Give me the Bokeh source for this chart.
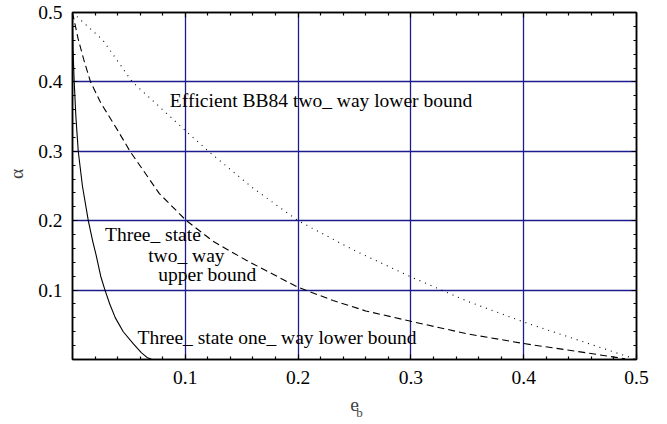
from bokeh.plotting import figure
from bokeh.models import Range1d, FixedTicker, LinearAxis, Label, CustomJSTickFormatter
from bokeh.embed import file_html
from bokeh.resources import INLINE

# ---- data ----
major_ticks = [0.1, 0.2, 0.3, 0.4, 0.5]
minor_ticks = [0.02, 0.04, 0.06, 0.08, 0.12, 0.14, 0.16, 0.18, 0.22, 0.24, 0.26, 0.28,
               0.32, 0.34, 0.36, 0.38, 0.42, 0.44, 0.46, 0.48]
grid_ticks = [0.1, 0.2, 0.3, 0.4]

# Three_state one_way lower bound (solid)
one_way_x = [0.0, 0.0004, 0.0015, 0.003, 0.0051, 0.0088, 0.014, 0.018, 0.021, 0.025, 0.0288,
             0.033, 0.038, 0.045, 0.054, 0.061, 0.066, 0.0705]
one_way_y = [0.5, 0.45, 0.4, 0.35, 0.3, 0.25, 0.2, 0.17, 0.15, 0.12, 0.1,
             0.08, 0.06, 0.04, 0.0225, 0.01, 0.003, 0.0]

# Three_state two_way upper bound (dashed)
two_way_x = [0.0, 0.002, 0.005, 0.01, 0.016, 0.025, 0.039, 0.051, 0.077, 0.101, 0.125, 0.154,
             0.2, 0.231, 0.26, 0.3, 0.35, 0.4, 0.45, 0.49]
two_way_y = [0.5, 0.485, 0.462, 0.432, 0.4, 0.37, 0.333, 0.3, 0.239, 0.2, 0.17, 0.143,
             0.104, 0.085, 0.07, 0.055, 0.037, 0.023, 0.011, 0.001]

# Efficient BB84 two_way lower bound (dotted)
bb84_x = [0.0, 0.027, 0.053, 0.1, 0.122, 0.16, 0.2, 0.25, 0.3, 0.35, 0.4, 0.45, 0.5]
bb84_y = [0.5, 0.46, 0.4, 0.33, 0.298, 0.247, 0.2, 0.157, 0.119, 0.084, 0.054, 0.027, 0.0]

FONT = "Liberation Serif"
FS = "19.5px"
GRID = "#1c1c8e"

p = figure(width=659, height=424, x_range=Range1d(0, 0.5), y_range=Range1d(0, 0.5),
           output_backend="svg", toolbar_location=None,
           min_border_left=72, min_border_right=23, min_border_top=12, min_border_bottom=65)

p.background_fill_color = "white"
p.border_fill_color = "white"
p.outline_line_color = "black"
p.outline_line_width = 1.5

# grids
p.xgrid.ticker = FixedTicker(ticks=grid_ticks)
p.ygrid.ticker = FixedTicker(ticks=grid_ticks)
for g in (p.xgrid, p.ygrid):
    g.grid_line_color = GRID
    g.grid_line_width = 1.3

def style_axis(ax, show_labels):
    ax.ticker = FixedTicker(ticks=major_ticks, minor_ticks=minor_ticks)
    ax.axis_line_color = "black"
    ax.axis_line_width = 1.5
    ax.major_tick_in = 5
    ax.major_tick_out = 0
    ax.minor_tick_in = 3
    ax.minor_tick_out = 0
    ax.major_tick_line_color = "black"
    ax.minor_tick_line_color = "black"
    ax.major_tick_line_width = 1.2
    ax.minor_tick_line_width = 1.2
    ax.major_label_text_font = FONT
    ax.major_label_text_color = "black"
    if show_labels:
        ax.major_label_text_font_size = FS
    else:
        ax.formatter = CustomJSTickFormatter(code="return ''")
        ax.major_label_text_font_size = "0px"
        ax.major_label_standoff = 0

style_axis(p.xaxis[0], True)
style_axis(p.yaxis[0], True)
p.xaxis.major_label_standoff = 11
p.yaxis.major_label_standoff = 10

p.xaxis.axis_label = "e"
p.xaxis.axis_label_text_font = FONT
p.xaxis.axis_label_text_font_size = FS
p.xaxis.axis_label_text_font_style = "normal"
p.xaxis.axis_label_standoff = 11

p.yaxis.axis_label = "\u00a0\u00a0\u00a0\u00a0\u00a0α"
p.yaxis.axis_label_text_font = FONT
p.yaxis.axis_label_text_font_size = FS
p.yaxis.axis_label_text_font_style = "normal"
p.yaxis.axis_label_standoff = 8

# subscript "b" of the x-axis label, as the label of a bare extra axis
sub_axis = LinearAxis(ticker=FixedTicker(ticks=[]), axis_line_color=None,
                      major_tick_line_color=None, minor_tick_line_color=None,
                      formatter=CustomJSTickFormatter(code="return ''"),
                      major_label_text_font_size="0px", major_label_standoff=0,
                      axis_label="\u00a0\u00a0\u00a0b", axis_label_text_font=FONT,
                      axis_label_text_font_size="13px", axis_label_text_font_style="normal",
                      axis_label_standoff=-9)
p.add_layout(sub_axis, "below")

top_axis = LinearAxis()
right_axis = LinearAxis()
style_axis(top_axis, False)
style_axis(right_axis, False)
p.add_layout(top_axis, "above")
p.add_layout(right_axis, "right")

# curves
p.line(one_way_x, one_way_y, line_color="black", line_width=1.1)
p.line(two_way_x, two_way_y, line_color="black", line_width=1.1, line_dash="7 4")
p.line(bb84_x, bb84_y, line_color="black", line_width=1.1, line_dash="1 5")

def add_text(x, y, s):
    p.add_layout(Label(x=x, y=y, text=s, text_font=FONT, text_font_size=FS,
                       text_color="black", text_baseline="alphabetic", text_align="left"))

add_text(0.0863, 0.3735, "Efficient BB84 two_ way lower bound")
add_text(0.0288, 0.1805, "Three_ state")
add_text(0.0671, 0.150, "two_ way")
add_text(0.076, 0.1224, "upper bound")
add_text(0.0577, 0.0316, "Three_ state one_ way lower bound")

open("out.html", "w").write(file_html(p, INLINE))
